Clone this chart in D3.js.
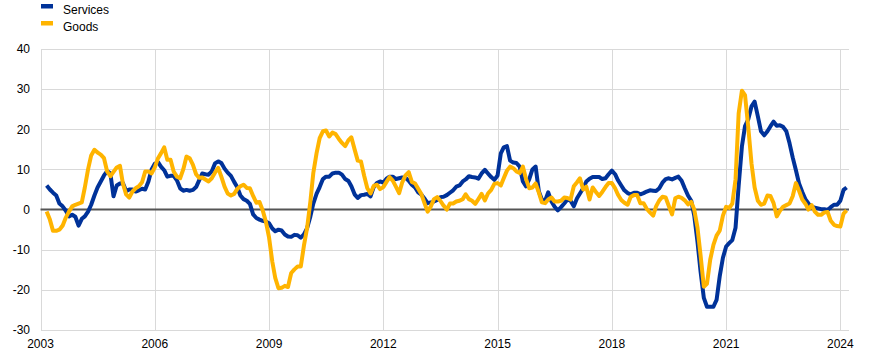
<!DOCTYPE html>
<html>
<head>
<meta charset="utf-8">
<script src="https://cdn.jsdelivr.net/npm/d3@7"></script>
<style>
  html, body { margin: 0; padding: 0; background: #fff; }
  svg { display: block; font-family: Arial, "Liberation Sans", sans-serif; }
</style>
</head>
<body>
<svg id="chart" width="873" height="355"></svg>
<script>
// ---- data (monthly, first observation March 2003) ----
const seriesNames = ["Services", "Goods"];
const seriesColors = ["#003299", "#ffb400"];
const firstMonth = [2003, 2]; // year, zero-based month (March)

const services = [
  6.0, 5.0, 4.2, 3.5, 1.5, 0.8, -0.3, -1.7, -1.3, -1.8,
  -4.0, -2.3, -1.7, -0.5, 1.2, 3.5, 5.5, 7.0, 8.5, 9.6,
  9.0, 3.3, 6.0, 6.5, 6.6, 4.6, 5.0, 5.0, 4.5, 4.8,
  5.2, 5.0, 7.0, 10.0, 11.4, 11.8, 10.7, 9.8, 8.2, 8.4,
  8.4, 7.3, 5.3, 4.7, 4.9, 4.7, 4.9, 5.6, 7.2, 9.0,
  8.8, 8.7, 9.5, 11.5, 12.0, 11.6, 10.2, 9.2, 8.4, 6.9,
  5.6, 3.5, 2.6, 2.2, 1.4, -1.2, -2.1, -2.5, -2.8, -3.0,
  -3.4, -4.7, -5.4, -5.0, -5.2, -6.2, -6.7, -6.8, -6.3, -6.4,
  -7.0, -6.2, -4.6, -1.7, 1.5, 3.9, 5.6, 7.6, 8.2, 8.2,
  9.0, 9.2, 9.2, 8.7, 7.6, 7.1, 5.8, 3.8, 2.9, 3.6,
  3.7, 3.9, 3.3, 5.6, 6.6, 7.0, 6.7, 7.7, 8.2, 8.2,
  7.6, 7.8, 8.0, 7.9, 7.2, 6.2, 5.5, 4.3, 3.7, 2.7,
  1.6, 1.8, 2.0, 2.4, 3.1, 3.2, 3.6, 4.2, 4.8, 5.7,
  6.0, 7.0, 7.5, 8.3, 8.1, 8.0, 7.7, 9.0, 9.9, 9.0,
  8.1, 7.4, 8.5, 14.0, 15.5, 15.8, 12.2, 11.7, 11.6, 10.7,
  7.0, 5.8, 7.6, 10.0, 10.7, 4.5, 2.5, 2.2, 4.3, 2.0,
  0.7, -0.2, 0.6, 1.5, 2.5, 2.2, 0.8, 2.8, 4.0, 5.3,
  7.0, 7.7, 8.1, 8.1, 8.1, 7.6, 7.8, 8.8, 9.7, 8.8,
  7.3, 6.0, 4.8, 4.1, 3.8, 4.2, 4.2, 3.8, 4.1, 4.5,
  4.8, 4.7, 4.6, 5.3, 6.7, 7.6, 7.8, 7.5, 7.9, 8.2,
  7.2, 5.3, 3.5, 2.2, -1.5, -8.0, -15.5, -22.0, -24.2, -24.2,
  -24.2, -22.5, -16.5, -12.0, -9.2, -8.3, -7.6, -4.5, 6.0, 15.7,
  20.8, 22.5, 25.7, 26.9, 23.2, 19.5, 18.5, 19.5, 20.7, 21.9,
  20.9, 21.0, 20.6, 19.5, 16.5, 13.0, 9.8, 6.5, 4.4, 2.5,
  1.5, 0.7, 0.5, 0.3, 0.1, 0.1, -0.1, 0.6, 1.2, 1.2,
  2.2, 4.9, 5.5
];

const goods = [
  -0.5, -2.5, -5.3, -5.3, -5.0, -4.0, -2.0, -0.5, 0.8, 1.2,
  1.5, 1.8, 5.5, 10.0, 13.5, 14.9, 14.2, 13.7, 12.8, 9.5,
  8.3, 9.4, 10.5, 10.9, 6.5, 3.8, 3.0, 4.5, 5.3, 5.8,
  6.8, 9.5, 9.5, 9.0, 10.5, 12.8, 14.0, 15.5, 12.4, 12.4,
  9.5, 8.2, 7.8, 10.0, 13.2, 12.8, 11.2, 8.8, 7.9, 8.0,
  7.5, 7.0, 7.8, 9.2, 10.4, 8.2, 5.7, 4.0, 3.5, 3.9,
  5.1, 5.8, 6.2, 5.4, 5.3, 3.4, 1.7, 1.9, -0.2, -3.0,
  -7.0, -13.0, -17.0, -19.6, -19.5, -19.0, -19.3, -15.8, -14.9, -14.2,
  -14.2, -9.0, -4.5, 2.0, 9.1, 14.0, 17.8, 19.5, 19.7, 18.2,
  19.2, 18.8, 17.6, 16.6, 15.8, 17.3, 18.0, 15.0, 12.2, 12.0,
  8.5, 5.3, 4.0, 5.9, 6.2, 5.1, 5.6, 6.9, 8.1, 7.2,
  5.7, 4.1, 6.8, 8.5, 9.3, 6.9, 6.5, 5.2, 3.8, 1.5,
  -0.5, 0.8, 2.6, 3.1, 2.2, 1.0, 0.0, 1.5, 1.5, 2.0,
  2.2, 2.6, 3.8, 2.6, 2.2, 1.4, 2.6, 3.9, 2.3, 4.0,
  4.9, 6.4, 6.6, 6.0, 7.8, 9.7, 10.7, 10.3, 9.5, 9.1,
  10.7, 7.6, 5.3, 5.5, 6.5, 4.2, 1.8, 1.6, 2.5, 3.0,
  2.0, 2.0, 2.2, 3.0, 2.9, 2.5, 5.8, 6.8, 7.8, 5.0,
  5.7, 2.5, 5.5, 4.4, 3.4, 4.4, 5.6, 6.6, 6.6, 5.3,
  3.7, 2.4, 1.7, 1.2, 3.2, 3.6, 3.6, 1.6, 1.6, 0.2,
  -0.7, -1.5, 0.8, 2.3, 3.2, 3.0, 0.9, -1.2, 2.8, 3.2,
  2.9, 2.3, 1.3, 1.9, 0.0, -4.5, -11.5, -19.2, -18.5, -12.5,
  -8.8, -6.5, -5.2, -1.5, 0.7, 0.4, 1.5, 7.5, 24.0, 29.6,
  28.5, 20.5, 11.5, 5.5, 2.2, 1.2, 1.5, 3.5, 3.4, 1.6,
  -1.7, -0.3, 0.7, 1.1, 1.5, 3.3, 6.6, 4.7, 2.5, 1.4,
  0.0, 1.1, -0.5, -1.3, -1.3, -0.7, -0.6, -2.8, -3.8, -4.1,
  -4.2, -1.0, -0.2
];

const yTicks = [-30, -20, -10, 0, 10, 20, 30, 40];
const xTickYears = [2003, 2006, 2009, 2012, 2015, 2018, 2021, 2024];

// ---- layout ----
const svg = d3.select("#chart");
const plotLeft = 40.5, plotRight = 849, plotTop = 49, plotBottom = 330;

const x = d3.scaleTime()
  .domain([new Date(2003, 0, 1), new Date(2024, 2, 24)])
  .range([plotLeft, plotRight]);
const y = d3.scaleLinear().domain([-30, 40]).range([plotBottom, plotTop]);

const dateAt = i => new Date(firstMonth[0], firstMonth[1] + i, 1);

// horizontal gridlines
const grid = svg.append("g").attr("shape-rendering", "crispEdges");
grid.selectAll("line.h").data(yTicks.filter(t => t !== 0)).join("line")
  .attr("class", "h")
  .attr("x1", plotLeft).attr("x2", plotRight)
  .attr("y1", d => Math.round(y(d)) + 0.5).attr("y2", d => Math.round(y(d)) + 0.5)
  .attr("stroke", "#d9d9d9").attr("stroke-width", 1);

// vertical gridlines
grid.selectAll("line.v").data(xTickYears).join("line")
  .attr("class", "v")
  .attr("x1", d => Math.round(x(new Date(d, 0, 1))) + 0.5)
  .attr("x2", d => Math.round(x(new Date(d, 0, 1))) + 0.5)
  .attr("y1", plotTop).attr("y2", plotBottom + 1)
  .attr("stroke", "#d9d9d9").attr("stroke-width", 1);

// y tick labels
svg.append("g").selectAll("text").data(yTicks).join("text")
  .attr("x", 30).attr("y", d => y(d) + 4.3)
  .attr("text-anchor", "end")
  .attr("font-size", 12).attr("fill", "#000")
  .text(d => d);

// x tick labels
svg.append("g").selectAll("text").data(xTickYears).join("text")
  .attr("x", d => x(new Date(d, 0, 1)))
  .attr("y", 348)
  .attr("text-anchor", "middle")
  .attr("font-size", 12).attr("fill", "#000")
  .text(d => d);

// zero line
svg.append("line")
  .attr("x1", plotLeft).attr("x2", plotRight)
  .attr("y1", y(0)).attr("y2", y(0))
  .attr("stroke", "#555555").attr("stroke-width", 2);

// series lines
const line = d3.line()
  .x((d, i) => x(dateAt(i)))
  .y(d => y(d));

[services, goods].forEach((vals, k) => {
  svg.append("path")
    .datum(vals)
    .attr("d", line)
    .attr("fill", "none")
    .attr("stroke", seriesColors[k])
    .attr("stroke-width", 4)
    .attr("stroke-linejoin", "round");
});

// legend
const legend = svg.append("g");
seriesNames.forEach((name, k) => {
  const yy = 4 + k * 17;
  legend.append("rect")
    .attr("x", 41).attr("y", yy).attr("width", 12).attr("height", 4.5)
    .attr("fill", seriesColors[k]);
  legend.append("text")
    .attr("x", 63).attr("y", yy + 9.7)
    .attr("font-size", 12).attr("fill", "#000")
    .text(name);
});
</script>
</body>
</html>
